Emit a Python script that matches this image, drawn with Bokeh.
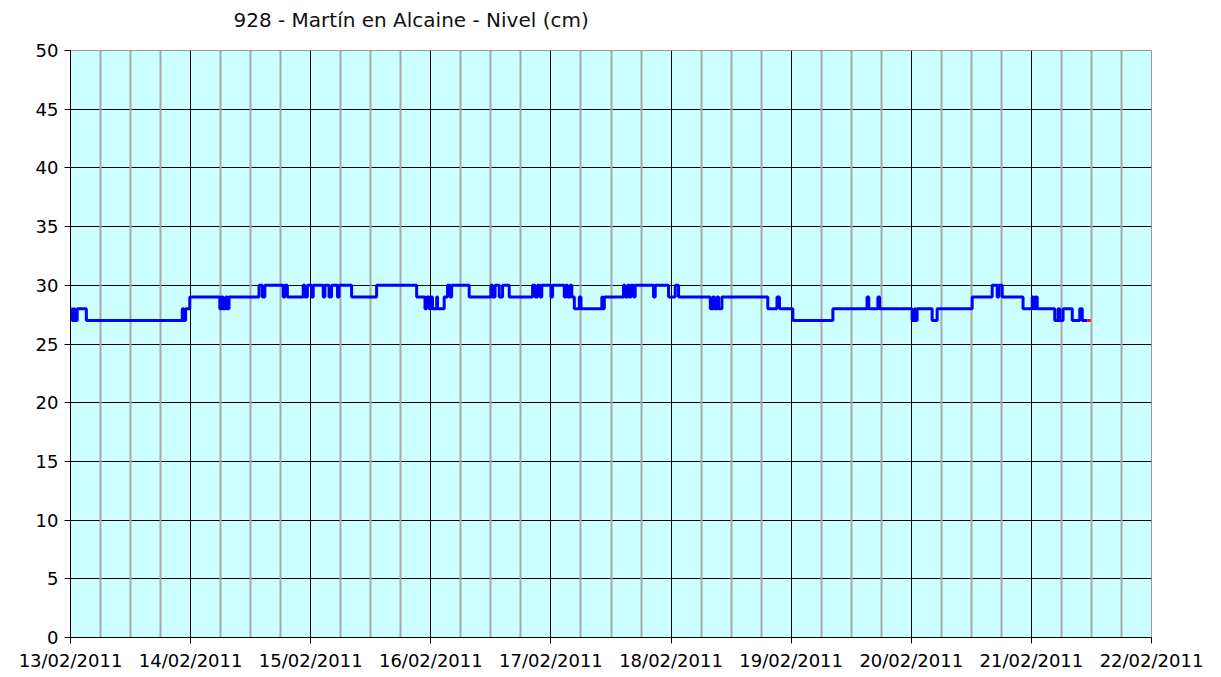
import pandas as pd
from bokeh.plotting import figure
from bokeh.models import Range1d, FixedTicker, DatetimeTickFormatter, Grid
from bokeh.embed import file_html
from bokeh.resources import INLINE

title_text = "928 - Martín en Alcaine - Nivel (cm)"

# step change times (day hh:mm, February 2011) and level (cm) after each change
change_times = [
    "13 00:10", "13 00:20", "13 00:40", "13 00:50", "13 01:20", "13 03:10", "13 22:20", "13 22:40",
    "13 23:00", "13 23:50", "14 05:50", "14 06:10", "14 06:30", "14 07:00", "14 07:20", "14 07:40",
    "14 13:40", "14 14:20", "14 14:50", "14 18:30", "14 18:50", "14 19:20", "14 22:30", "14 22:50",
    "14 23:20", "15 00:10", "15 00:30", "15 02:30", "15 02:50", "15 03:40", "15 04:10", "15 05:20",
    "15 05:40", "15 08:10", "15 13:10", "15 21:10", "15 22:50", "15 23:10", "15 23:40", "16 00:00",
    "16 00:20", "16 01:10", "16 01:20", "16 02:40", "16 03:20", "16 03:50", "16 04:10", "16 07:40",
    "16 12:00", "16 12:20", "16 12:50", "16 13:40", "16 14:20", "16 15:40", "16 20:20", "16 20:50",
    "16 21:20", "16 21:50", "16 22:10", "17 00:00", "17 00:20", "17 02:40", "17 03:00", "17 03:20",
    "17 03:50", "17 04:10", "17 04:40", "17 05:40", "17 06:00", "17 10:10", "17 10:20", "17 10:40",
    "17 14:30", "17 14:50", "17 15:20", "17 15:40", "17 16:00", "17 16:30", "17 16:50", "17 20:30",
    "17 20:50", "17 23:30", "18 00:50", "18 01:30", "18 07:50", "18 08:20", "18 08:40", "18 09:10",
    "18 09:30", "18 10:10", "18 19:20", "18 21:10", "18 21:40", "19 00:20", "19 08:20", "19 15:10",
    "19 15:30", "19 17:20", "19 17:40", "20 00:10", "20 00:40", "20 00:50", "20 01:10", "20 04:10",
    "20 05:10", "20 12:10", "20 16:10", "20 17:10", "20 17:30", "20 18:10", "20 22:20", "21 00:10",
    "21 00:30", "21 00:50", "21 01:10", "21 04:40", "21 05:20", "21 05:40", "21 06:20", "21 08:10",
    "21 09:40", "21 10:10", "21 11:10",
]
levels = [
    28, 27, 28, 27, 28, 27, 28, 27,
    28, 29, 28, 29, 28, 29, 28, 29,
    30, 29, 30, 29, 30, 29, 30, 29,
    30, 29, 30, 29, 30, 29, 30, 29,
    30, 29, 30, 29, 28, 29, 28, 29,
    28, 29, 28, 29, 30, 29, 30, 29,
    30, 29, 30, 29, 30, 29, 30, 29,
    30, 29, 30, 29, 30, 29, 30, 29,
    30, 29, 28, 29, 28, 29, 28, 29,
    30, 29, 30, 29, 30, 29, 30, 29,
    30, 29, 30, 29, 28, 29, 28, 29,
    28, 29, 28, 29, 28, 27, 28, 29,
    28, 29, 28, 27, 28, 27, 28, 27,
    28, 29, 30, 29, 30, 29, 28, 29,
    28, 29, 28, 27, 28, 27, 28, 27,
    28, 27, 27,
]
# last (provisional) segment drawn in red
red_times = ["21 11:10", "21 11:50"]
red_levels = [27, 27]

day_labels = ["13/02/2011", "14/02/2011", "15/02/2011", "16/02/2011", "17/02/2011",
              "18/02/2011", "19/02/2011", "20/02/2011", "21/02/2011", "22/02/2011"]
y_ticks = [0, 5, 10, 15, 20, 25, 30, 35, 40, 45, 50]


def to_dt(s):
    d, hm = s.split(" ")
    return pd.Timestamp(f"2011-02-{d} {hm}")


xs = [to_dt(s) for s in change_times]
rx = [to_dt(s) for s in red_times]

days = [pd.Timestamp(f"2011-02-{d[:2]}") for d in day_labels]
day_ms = [t.value // 10**6 for t in days]
six_h_ms = [(days[0] + pd.Timedelta(hours=6 * k)).value // 10**6 for k in range(0, 37) if k % 4 != 0]

p = figure(width=1213, height=673, x_axis_type="datetime",
           x_range=Range1d(days[0], days[-1]), y_range=Range1d(0, 50),
           output_backend="svg", toolbar_location=None,
           min_border_left=70, min_border_right=62, min_border_top=50, min_border_bottom=30)

p.background_fill_color = "#CCFFFF"
p.border_fill_color = "white"
p.outline_line_color = "#999999"
p.outline_line_width = 1

p.title.text = title_text
p.title.align = "left"
p.title.offset = 163
p.title.text_font = "DejaVu Sans"
p.title.text_font_size = "20px"
p.title.text_font_style = "normal"
p.title.text_color = "#111111"
p.title.standoff = 10
p.title.padding = dict(left=0, right=0, top=0, bottom=14)

# grids
p.xgrid.grid_line_color = None
p.ygrid.ticker = FixedTicker(ticks=y_ticks[1:-1])
p.ygrid.grid_line_color = "black"
p.ygrid.grid_line_alpha = 1
p.ygrid.grid_line_width = 1
p.add_layout(Grid(dimension=0, ticker=FixedTicker(ticks=six_h_ms),
                  grid_line_color="#A8A8A8", grid_line_width=2))
p.add_layout(Grid(dimension=0, ticker=FixedTicker(ticks=day_ms[1:-1]),
                  grid_line_color="black", grid_line_width=1))

# axes
fmt = "%d/%m/%Y"
p.xaxis.ticker = FixedTicker(ticks=day_ms)
p.xaxis.formatter = DatetimeTickFormatter(milliseconds=fmt, seconds=fmt, minsec=fmt, minutes=fmt,
                                          hourmin=fmt, hours=fmt, days=fmt, months=fmt, years=fmt)
p.yaxis.ticker = FixedTicker(ticks=y_ticks)
for ax in (p.xaxis, p.yaxis):
    ax.axis_line_color = "black"
    ax.axis_line_width = 1
    ax.major_tick_line_color = "black"
    ax.major_tick_in = 0
    ax.major_tick_out = 6
    ax.minor_tick_line_color = None
    ax.major_label_text_font = "DejaVu Sans"
    ax.major_label_text_font_size = "18px"
    ax.major_label_text_color = "black"
    ax.major_label_standoff = 6

p.step(xs, levels, mode="after", line_color="#0000FF", line_width=3)
p.line(rx, red_levels, line_color="#FF0000", line_width=3)

open("out.html", "w").write(file_html(p, INLINE))
